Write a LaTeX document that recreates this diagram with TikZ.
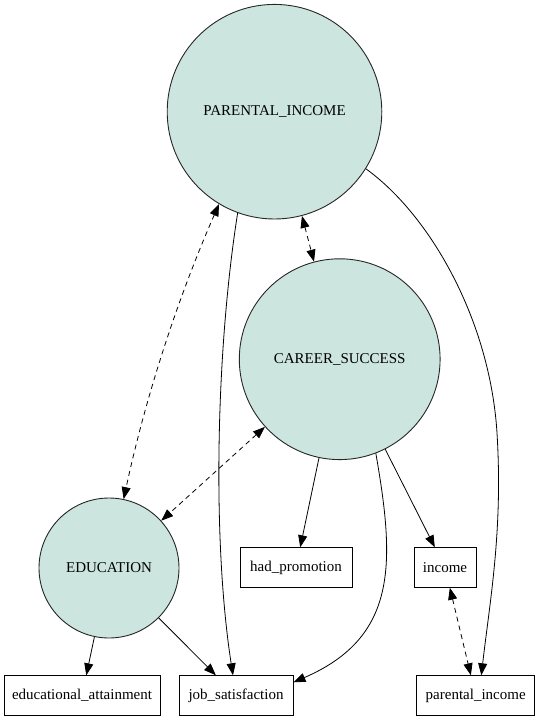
\documentclass[tikz,border=0pt]{standalone}
\usepackage{fontspec}
\setmainfont{Liberation Serif}
\usetikzlibrary{arrows.meta}
\definecolor{latfill}{RGB}{204,229,223}
\tikzset{
 latent/.style={circle, draw=black!85, fill=latfill, line width=0.9pt, inner sep=0pt, font=\fontsize{15}{18}\selectfont},
 obs/.style={rectangle, draw=black, line width=0.9pt, minimum height=39.5pt, inner sep=0pt, font=\fontsize{15}{18}\selectfont},
 reg/.style={-{Triangle[length=12pt,width=9pt]}, line width=0.8pt},
 cov/.style={{Triangle[length=12pt,width=9pt]}-{Triangle[length=12pt,width=9pt]}, line width=0.8pt, dash pattern=on 5pt off 4pt},
}
\begin{document}
\begin{tikzpicture}[x=1pt,y=-1pt]
\useasboundingbox (0,0) rectangle (539,720);
\node[latent, minimum size=214.6pt] (pi) at (274.5,111.7) {PARENTAL\_INCOME};
\node[latent, minimum size=200.8pt] (cs) at (339.7,359.2) {CAREER\_SUCCESS};
\node[latent, minimum size=140pt] (edu) at (109,568) {EDUCATION};
\node[obs, minimum width=112pt] (hp) at (296,567.5) {had\_promotion};
\node[obs, minimum width=62pt] (inc) at (445,567.5) {income};
\node[obs, minimum width=156pt] (ea) at (82,695.5) {educational\_attainment};
\node[obs, minimum width=114pt] (js) at (236,695.5) {job\_satisfaction};
\node[obs, minimum width=118pt] (pinc) at (475.7,695.5) {parental\_income};
\coordinate (pbend) at (497,433);
\draw[cov] (pi.-121) .. controls (177.1,299.7) and (145.5,397.4) .. (edu.78);
\draw[cov] (pi) -- (cs);
\draw[cov] (cs) -- (edu);
\draw[cov] (inc) -- (pinc);
\draw[reg] (pi.-110) .. controls (216,350) and (212,540) .. ([xshift=-3pt]js.north);
\draw[reg] (pi.-32) .. controls (430,215) and (490,320) .. (pbend) .. controls (503,530) and (490,600) .. ([xshift=5.6pt]pinc.north);
\draw[reg] (cs.-69.4) .. controls (395,563) and (398,637) .. ([yshift=-7pt]js.north east);
\draw[reg] (cs) -- (hp);
\draw[reg] (cs) -- (inc);
\draw[reg] (edu) -- (ea);
\draw[reg] (edu) -- (js);
\end{tikzpicture}
\end{document}
